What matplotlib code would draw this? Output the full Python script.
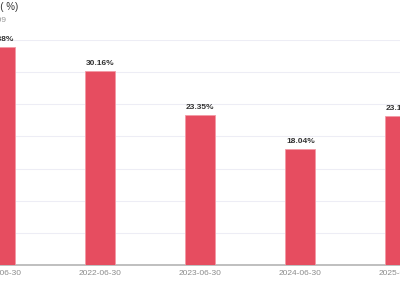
import matplotlib
matplotlib.use("Agg")
import matplotlib.pyplot as plt

plt.rcParams['font.family'] = ['Liberation Sans', 'Noto Sans CJK SC', 'DejaVu Sans']

dates = ["2021-06-30", "2022-06-30", "2023-06-30", "2024-06-30", "2025-06-30"]
values = [33.88, 30.16, 23.35, 18.04, 23.18]
labels = ["33.88%", "30.16%", "23.35%", "18.04%", "23.18%"]

W, H = 400, 300
fig = plt.figure(figsize=(W / 100, H / 100), dpi=100)

# axes wider than the figure so the chart appears cropped like the reference
left_px, right_px = -49.7, 450.3
top_px, base_px = 40, 265
ax = fig.add_axes([left_px / W, (H - base_px) / H,
                   (right_px - left_px) / W, (base_px - top_px) / H])

x = range(len(dates))
ax.bar(x, values, width=0.3, color="#e64d60", edgecolor="#f39aa5", linewidth=0.6, zorder=3)

for xi, v, lab in zip(x, values, labels):
    ax.annotate(lab, (xi, v), xytext=(0, 3), textcoords="offset points",
                ha="center", va="bottom", fontsize=6, fontweight="bold",
                color="#333333", annotation_clip=False)

ax.set_xlim(-0.5, 4.5)
ax.set_ylim(0, 35)
ax.set_yticks([0, 5, 10, 15, 20, 25, 30, 35])
ax.yaxis.grid(True, color="#ededf5", linewidth=0.8, zorder=0)
ax.set_axisbelow(True)
ax.tick_params(axis="y", left=False, labelleft=False)
ax.set_xticks(list(x))
ax.set_xticklabels(dates, fontsize=6, color="#8c8c8c")
ax.tick_params(axis="x", length=0, pad=3.5)
for s in ["left", "right", "top"]:
    ax.spines[s].set_visible(False)
ax.spines["bottom"].set_color("#b4b4b4")
ax.spines["bottom"].set_linewidth(1.2)

# title and subtitle, mostly cut off at the left edge
fig.text(18.5 / W, 1 - 7 / H, "毛利率( %)", ha="right", va="center",
         fontsize=7, color="#333333")
fig.text(7 / W, 1 - 20 / H, "2025-09-09", ha="right", va="center",
         fontsize=6, color="#999999")

fig.savefig("out.png", dpi=100)
